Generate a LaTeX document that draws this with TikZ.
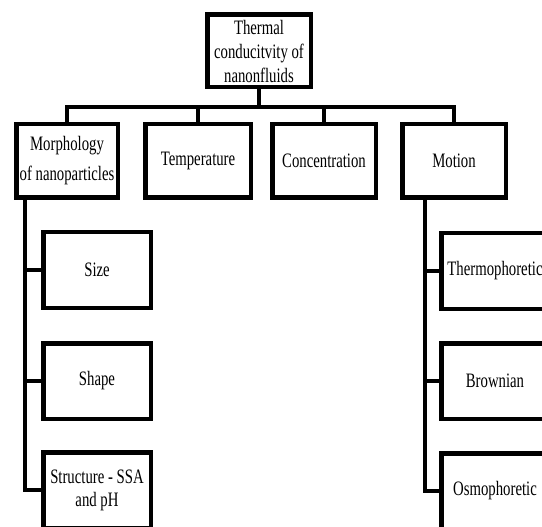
\documentclass[tikz,border=0pt]{standalone}
\usepackage{fontspec}
\setmainfont{Liberation Serif}[FakeStretch=0.72]
\usepackage{tikz}

\begin{document}
\begin{tikzpicture}[x=1pt,y=-1pt,font=\fontsize{20.5}{23}\selectfont,
  box/.style={draw,line width=4.5pt,align=center,inner sep=2pt},
  link/.style={line width=4.5pt,line cap=rect}]
\clip (0,0) rectangle (542,527);
\node[box,minimum width=103.5,minimum height=72.5,font=\fontsize{20.5}{24}\selectfont] (top) at (259,51) {Thermal\\conducitvity of\\nanonfluids};
\node[box,minimum width=101.5,minimum height=73.5,font=\fontsize{20.5}{30}\selectfont] (morph) at (67,161) {Morphology\\of nanoparticles};
\node[box,minimum width=105.5,minimum height=73.5] (temp) at (198,161) {Temperature};
\node[box,minimum width=103.5,minimum height=73.5] (conc) at (324,161) {Concentration};
\node[box,minimum width=103.5,minimum height=73.5] (motion) at (454,161) {Motion};
\node[box,minimum width=107.5,minimum height=75.5] (size) at (97,270) {Size};
\node[box,minimum width=107.5,minimum height=75.5] (shape) at (97,381) {Shape};
\node[box,minimum width=107.5,minimum height=75.5] (struct) at (97,490) {Structure - SSA\\and pH};
\node[box,minimum width=107.5,minimum height=75.5] (thermo) at (495,271) {Thermophoretic};
\node[box,minimum width=107.5,minimum height=75.5] (brown) at (495,381) {Brownian};
\node[box,minimum width=107.5,minimum height=75.5] (osmo) at (495,491) {Osmophoretic};
\coordinate (bus) at (259,107);
\coordinate (lt) at (25,200);
\coordinate (rt) at (425,200);
\draw[link] (top.south) -- (bus);
\draw[link] (morph.north |- bus) -- (motion.north |- bus);
\foreach \n in {morph,temp,conc,motion} \draw[link] (\n.north |- bus) -- (\n.north);
\draw[link] (lt |- morph.south) -- (lt |- struct.west) -- (struct.west);
\draw[link] (lt |- size.west) -- (size.west);
\draw[link] (lt |- shape.west) -- (shape.west);
\draw[link] (rt |- motion.south) -- (rt |- osmo.west) -- (osmo.west);
\draw[link] (rt |- thermo.west) -- (thermo.west);
\draw[link] (rt |- brown.west) -- (brown.west);
\end{tikzpicture}
\end{document}
